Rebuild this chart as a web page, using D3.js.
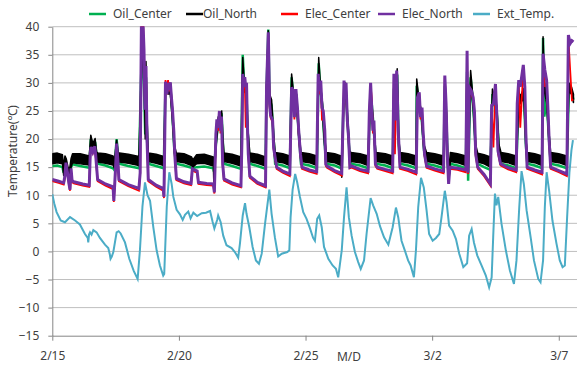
<!DOCTYPE html>
<html>
<head>
<meta charset="utf-8">
<script src="https://cdn.jsdelivr.net/npm/d3@7"></script>
<style>
  body { margin: 0; background: #fff; }
  text { font-family: "Noto Sans", "Noto Sans CJK KR", sans-serif; fill: #404040; }
</style>
</head>
<body>
<div id="chart"></div>
<script>
// tick labels
const dateTicks = ["2/15", "2/20", "2/25", "3/2", "3/7"];
const tempTicks = [-15, -10, -5, 0, 5, 10, 15, 20, 25, 30, 35, 40];

// days since 2/15 00:00 -- oil heated rooms
const oilT = [0.00,0.20,0.40,0.45,0.50,0.55,0.62,0.68,0.74,0.80,1.10,1.46,1.52,1.60,1.69,1.75,1.80,2.10,2.40,2.45,2.54,2.60,2.65,3.00,3.42,3.50,3.56,3.64,3.67,3.70,3.74,3.79,
  4.10,4.40,4.47,4.57,4.66,4.74,4.82,4.90,5.20,5.50,5.55,5.70,6.00,6.36,6.38,6.46,6.55,6.69,6.74,6.78,7.10,7.45,7.52,7.58,7.66,7.72,7.80,
  8.10,8.42,8.46,8.53,8.58,8.66,8.74,8.80,9.10,9.38,9.45,9.55,9.63,9.72,9.82,10.15,10.45,10.52,10.58,10.66,10.74,10.82,
  11.15,11.40,11.43,11.50,11.58,11.66,11.74,11.80,12.15,12.47,12.55,12.62,12.70,12.78,13.15,13.44,13.49,13.55,13.62,13.68,13.74,
  14.05,14.37,14.39,14.48,14.58,14.68,14.78,15.10,15.45,15.50,15.56,15.62,15.66,15.72,16.00,16.33,16.38,16.42,16.52,16.62,16.72,16.80,
  17.05,17.30,17.38,17.48,17.55,17.64,17.72,18.00,18.32,18.42,18.52,18.62,18.70,18.76,19.05,19.34,19.38,19.43,19.52,19.60,19.68,
  20.00,20.32,20.40,20.50,20.58];
const oilNorthHi = [17.4,17.5,17.2,15.0,17.0,16.5,15.0,14.5,16.5,17.4,17.4,17.0,20.7,19.2,20.1,17.7,17.5,17.4,17.0,16.0,19.8,17.5,17.5,17.3,16.9,30.0,39.0,30.0,21.0,33.8,24.0,17.5,
  17.3,16.9,30.0,29.5,29.5,25.0,19.0,17.5,17.4,16.8,16.3,17.2,17.3,16.8,14.0,20.0,23.9,25.0,20.0,17.5,17.3,16.8,34.5,30.0,29.5,22.0,17.5,
  17.3,16.8,29.2,39.3,28.0,27.0,21.0,17.6,17.4,17.0,31.6,27.0,28.5,22.5,17.6,17.4,17.0,34.5,30.0,27.0,21.0,17.6,
  17.4,17.0,14.5,27.0,30.0,24.0,18.0,17.6,17.4,17.0,27.0,26.2,22.0,17.6,17.4,17.0,30.0,26.0,32.5,20.0,17.6,
  17.4,17.0,30.7,27.0,25.0,19.0,17.6,17.4,17.0,30.0,25.0,16.0,14.5,17.6,17.4,17.0,33.0,16.0,32.2,27.0,19.0,17.5,
  17.2,16.8,28.9,27.0,26.0,19.0,17.6,17.4,17.0,27.5,28.0,29.0,20.0,17.6,17.4,17.0,38.2,30.0,28.0,22.0,17.6,
  17.4,17.0,30.0,29.3,28.0];
const oilNorthLo = [15.6,15.8,15.6,13.5,15.5,15.0,13.5,12.5,15.0,15.8,15.6,15.4,19.5,18.0,19.0,16.5,15.9,15.7,15.4,14.8,18.8,16.5,15.9,15.7,15.3,28.0,37.0,28.0,20.0,32.5,22.0,16.0,
  15.7,15.3,28.5,28.0,28.0,23.5,17.5,16.0,15.8,15.3,15.0,15.6,15.7,15.2,12.0,18.5,22.5,23.5,18.5,16.0,15.7,15.2,33.0,28.5,28.0,20.5,16.0,
  15.7,15.2,27.5,37.5,26.5,25.5,19.5,16.0,15.8,15.3,30.0,25.5,27.0,21.0,16.0,15.8,15.3,33.0,28.5,25.5,19.5,16.0,
  15.8,15.3,13.2,25.5,28.5,22.5,16.5,16.0,15.8,15.3,25.5,25.0,20.5,16.0,15.8,15.3,28.5,24.5,31.0,18.5,16.0,
  15.8,15.3,29.0,25.5,23.5,17.5,16.0,15.8,15.3,28.5,23.5,14.5,13.0,16.0,15.8,15.3,31.5,14.5,30.5,25.5,17.5,15.9,
  15.6,15.0,27.5,25.5,24.5,17.5,16.0,15.8,15.3,26.0,26.5,27.5,18.5,16.0,15.8,15.3,36.5,28.5,26.5,20.5,16.0,
  15.8,15.3,28.5,28.0,26.5];
const oilCenter = [15.2,15.3,15.0,14.0,15.2,14.8,14.5,13.0,15.0,15.5,15.2,14.9,20.0,18.5,19.5,17.0,15.6,15.3,14.8,14.5,20.0,17.0,15.6,15.2,14.8,30.0,38.0,26.0,20.8,31.0,20.0,15.6,
  15.2,14.8,29.5,29.0,29.5,24.5,18.0,15.6,15.3,14.9,14.8,15.0,15.1,14.8,14.2,19.0,23.0,24.0,19.0,15.6,15.2,14.7,35.0,29.5,29.0,21.0,15.6,
  15.2,14.7,28.5,39.5,27.0,26.0,20.0,15.6,15.3,14.8,31.0,26.0,28.0,22.0,15.6,15.3,14.8,33.5,29.0,26.0,20.0,15.6,
  15.3,14.8,14.5,26.5,29.5,23.0,17.0,15.6,15.3,14.8,26.5,26.0,21.5,15.6,15.3,14.8,29.0,25.0,31.5,19.0,15.6,
  15.3,14.8,29.5,26.5,24.0,18.0,15.6,15.3,14.8,29.5,24.0,15.0,13.5,15.6,15.3,14.8,32.0,12.6,31.0,26.0,18.0,15.6,
  15.0,14.5,28.0,26.5,25.0,18.0,15.6,15.3,14.8,27.0,27.5,28.0,19.0,15.6,15.3,14.8,38.0,24.0,27.0,21.0,15.6,
  15.3,14.8,29.0,28.5,27.0];

// electric heated rooms
const elecT = [0.00,0.25,0.45,0.50,0.54,0.60,0.66,0.70,0.74,0.78,0.85,1.20,1.46,1.50,1.53,1.60,1.68,1.72,1.75,1.79,2.10,2.40,2.43,2.50,2.54,2.59,2.63,3.00,3.42,3.47,3.52,3.58,3.62,3.66,3.70,3.74,3.79,
  4.10,4.38,4.41,4.47,4.53,4.57,4.62,4.66,4.71,4.74,4.80,4.84,4.90,5.20,5.48,5.53,5.62,5.72,5.77,6.10,6.36,6.40,6.46,6.50,6.55,6.60,6.64,6.68,6.73,6.78,
  7.10,7.45,7.49,7.52,7.56,7.60,7.64,7.67,7.70,7.74,7.80,8.10,8.42,8.46,8.53,8.58,8.62,8.70,8.74,8.79,8.86,
  9.10,9.38,9.45,9.52,9.56,9.62,9.68,9.73,9.80,9.86,10.15,10.44,10.50,10.55,10.60,10.65,10.70,10.76,10.80,10.85,
  11.15,11.43,11.52,11.56,11.60,11.65,11.70,11.75,11.82,12.15,12.47,12.52,12.57,12.62,12.66,12.70,12.76,12.83,
  13.15,13.44,13.49,13.53,13.60,13.66,13.73,14.05,14.37,14.42,14.49,14.54,14.60,14.64,14.70,14.78,
  15.10,15.45,15.50,15.55,15.60,15.65,15.70,16.00,16.33,16.38,16.42,16.47,16.55,16.62,16.67,16.72,16.80,
  17.05,17.30,17.35,17.42,17.50,17.55,17.60,17.70,18.00,18.32,18.36,18.42,18.48,18.60,18.66,18.70,18.75,
  19.05,19.34,19.38,19.45,19.52,19.58,19.62,19.68,20.00,20.32,20.38,20.45,20.52,20.58];
const elecNorth = [12.8,12.5,12.2,13.5,15.8,14.0,12.0,11.0,14.8,12.6,12.4,12.0,11.8,17.5,18.6,17.7,18.7,16.8,15.0,12.8,12.0,11.5,9.0,15.0,19.2,16.2,12.8,11.9,11.2,14.0,41.0,41.0,36.0,25.2,33.0,20.0,12.8,
  11.8,11.2,9.7,30.2,28.0,30.0,28.8,30.1,27.1,25.6,21.3,17.0,13.0,12.4,12.1,14.7,14.5,14.3,12.3,12.1,12.0,10.5,20.9,23.5,22.0,25.0,21.5,24.0,15.5,12.9,
  12.2,11.7,20.0,31.6,29.5,31.0,29.2,30.0,23.3,17.3,13.4,12.3,11.7,29.0,39.0,26.2,24.2,23.3,18.5,17.0,15.0,
  14.3,13.8,29.2,28.6,23.9,28.9,25.6,21.5,17.3,15.0,14.5,14.2,31.6,28.6,30.4,25.6,25.0,21.5,15.5,15.2,
  14.4,13.9,30.4,28.0,30.0,23.3,20.3,15.0,15.2,14.6,14.3,25.0,30.0,25.0,21.5,23.3,15.5,15.0,
  14.6,14.3,31.6,23.3,32.2,21.5,15.0,14.6,14.1,27.4,28.3,23.9,25.6,21.5,17.3,15.2,
  14.7,14.3,31.3,26.2,17.3,12.0,15.0,14.8,14.5,35.7,14.0,29.2,28.6,27.4,25.0,17.3,15.0,
  13.7,12.0,26.0,26.2,29.8,24.5,17.9,15.6,14.9,14.5,26.3,30.5,29.3,33.2,29.3,21.0,15.0,
  14.5,14.1,35.2,32.3,30.5,24.5,19.8,15.0,14.4,13.8,38.5,37.0,37.5,37.3];
const elecCenter = [12.5,12.2,11.9,13.2,15.5,13.8,11.8,10.8,14.5,12.3,12.1,11.7,11.5,17.3,18.4,17.5,18.5,16.6,14.8,12.5,11.7,11.1,8.8,14.8,19.0,16.0,12.5,11.6,10.8,13.8,40.5,41.0,36.0,25.5,32.5,19.5,12.5,
  11.5,10.8,9.5,30.5,28.0,30.5,28.5,30.0,27.0,25.5,21.0,16.8,12.7,12.1,11.8,14.5,14.2,14.0,12.0,11.8,11.7,10.3,20.5,23.0,21.5,24.5,21.0,23.5,15.2,12.6,
  11.9,11.4,19.8,31.0,29.0,30.5,22.0,29.5,23.0,17.0,13.1,12.0,11.4,28.5,38.5,25.8,23.8,23.0,18.2,16.7,14.7,
  14.0,13.4,29.0,28.2,23.5,28.5,25.0,21.0,17.0,14.7,14.2,13.8,31.0,28.0,30.0,23.3,24.5,21.0,15.2,14.9,
  14.1,13.5,30.0,27.5,29.2,23.0,20.0,14.8,14.9,14.3,13.9,24.5,29.5,27.0,21.0,23.0,15.2,14.7,
  14.3,13.9,31.0,17.3,31.5,21.0,14.7,14.3,13.7,27.1,28.0,23.5,25.0,21.0,17.0,14.9,
  14.4,13.9,31.0,25.8,17.0,13.0,14.7,14.5,14.1,35.0,13.8,28.8,28.2,27.0,24.5,17.0,14.7,
  13.4,11.7,25.5,18.5,29.5,24.0,17.5,15.3,14.6,14.1,26.0,30.0,22.0,32.5,29.0,20.5,14.7,
  14.2,13.7,34.8,29.3,30.0,24.0,19.5,14.7,14.1,13.4,38.0,32.3,26.9,27.0];

// outdoor temperature
const extT = [0.00,0.08,0.17,0.33,0.50,0.70,0.90,1.09,1.29,1.40,1.42,1.45,1.49,1.55,1.62,1.75,1.88,2.08,2.21,2.27,2.30,2.35,2.41,2.54,2.62,2.70,2.87,3.04,3.22,3.37,3.46,3.56,3.66,3.76,3.86,3.99,
  4.12,4.25,4.38,4.42,4.52,4.62,4.71,4.78,4.91,5.04,5.15,5.24,5.37,5.46,5.57,5.72,5.90,6.07,6.23,6.33,6.40,6.51,6.55,6.65,6.75,6.88,7.08,7.21,7.34,7.41,7.52,7.61,7.67,7.78,7.91,
  8.04,8.16,8.27,8.40,8.57,8.66,8.79,8.92,9.06,9.28,9.36,9.41,9.49,9.59,9.67,9.78,9.91,10.04,10.17,10.30,10.37,10.46,10.54,10.64,10.73,10.90,
  11.07,11.20,11.29,11.43,11.52,11.62,11.71,11.82,11.95,12.08,12.18,12.31,12.41,12.57,12.67,12.81,12.94,13.10,13.27,13.44,13.57,13.66,13.79,13.92,
  14.05,14.15,14.28,14.36,14.45,14.56,14.67,14.78,14.88,15.02,15.15,15.28,15.37,15.50,15.57,15.67,15.81,15.94,16.07,16.23,16.38,16.46,16.56,16.65,16.78,16.95,
  17.12,17.25,17.35,17.41,17.48,17.54,17.61,17.74,17.91,18.07,18.23,18.33,18.44,18.53,18.62,18.73,18.89,19.02,19.19,19.28,19.38,19.45,19.52,19.62,19.75,19.91,
  20.04,20.15,20.24,20.33,20.42,20.50,20.56];
const extV = [10.2,8.5,7.0,5.5,5.2,6.1,5.5,4.8,3.1,2.4,1.6,3.0,3.4,3.0,3.8,3.4,2.4,1.2,0.6,-0.5,-1.3,-0.9,-0.1,3.4,3.6,3.2,1.6,-1.3,-3.5,-4.9,0.2,8.0,12.3,10.0,9.0,4.3,
  0.2,-2.5,-4.3,-4.0,8.0,14.1,12.1,9.7,7.4,6.6,5.6,6.5,7.1,5.9,6.9,6.3,6.8,6.9,7.2,5.3,4.1,5.6,6.4,5.2,2.8,1.1,0.6,-0.1,-1.1,1.4,6.4,8.6,6.7,4.3,0.8,
  -1.6,-2.2,-0.4,4.9,11.0,6.7,2.5,-0.9,-0.4,-0.1,0.2,6.1,11.0,13.8,12.3,9.7,7.0,5.8,4.2,2.4,1.9,5.8,6.4,4.3,0.8,-1.3,
  -2.5,-3.1,-4.6,0.2,6.1,11.4,6.1,2.8,-0.1,-1.9,-3.1,-1.6,3.1,9.5,8.2,6.7,4.5,2.5,1.2,4.3,7.8,6.1,1.9,0.2,
  -1.6,-2.5,-4.6,0.2,7.9,13.1,11.4,7.3,3.1,1.9,2.4,3.1,6.1,10.8,8.8,4.6,3.7,2.2,-0.4,-2.8,-2.1,2.8,4.0,1.6,-0.7,-2.5,
  -4.3,-6.4,-4.6,2.5,10.3,8.2,9.7,4.9,0.2,-3.4,-5.8,-1.6,7.9,14.3,12.0,7.3,2.5,-1.6,-4.9,-5.5,-1.6,7.9,14.1,10.8,5.5,1.4,
  -1.6,-2.8,-2.5,6.1,14.0,18.0,19.8];

const checks = [[oilT, oilNorthHi, oilNorthLo, oilCenter], [elecT, elecNorth, elecCenter], [extT, extV]];
checks.forEach((g, k) => g.forEach((a, j) => {
  if (a.length !== g[0].length) throw new Error(`group ${k} array ${j}: ${a.length} vs ${g[0].length}`);
}));

const width = 577, height = 365;
const plotLeft = 52.3, plotRight = 577, plotTop = 26.7, plotBottom = 335.7;

const parseMD = d3.timeParse("%m/%d");
const tickDates = dateTicks.map(parseMD);
const start = tickDates[0];
const toDate = t => new Date(start.getTime() + t * 864e5);

const x = d3.scaleTime()
  .domain([start, toDate(20.72)])
  .range([plotLeft, plotRight]);
const y = d3.scaleLinear()
  .domain([-15, 40])
  .range([plotBottom, plotTop]);

const svg = d3.select("#chart")
  .append("svg")
  .attr("width", width)
  .attr("height", height);

svg.append("defs").append("clipPath").attr("id", "plot")
  .append("rect")
  .attr("x", plotLeft).attr("y", plotTop - 0.5)
  .attr("width", plotRight - plotLeft).attr("height", plotBottom - plotTop);

// horizontal grid
svg.append("g")
  .selectAll("line")
  .data(tempTicks.slice(1))
  .enter()
  .append("line")
  .attr("x1", plotLeft).attr("x2", plotRight)
  .attr("y1", d => y(d)).attr("y2", d => y(d))
  .style("stroke", "#bfbfbf")
  .style("stroke-width", 1);

// axes
const yAxis = svg.append("g")
  .attr("transform", `translate(${plotLeft},0)`)
  .call(d3.axisLeft(y).tickValues(tempTicks).tickSize(4).tickSizeOuter(0).tickPadding(9));
const xAxis = svg.append("g")
  .attr("transform", `translate(0,${plotBottom})`)
  .call(d3.axisBottom(x).tickValues(tickDates).tickFormat(d3.timeFormat("%-m/%-d")).tickSize(5).tickSizeOuter(0).tickPadding(11));
[yAxis, xAxis].forEach(a => {
  a.select(".domain").style("stroke", "#868686");
  a.selectAll(".tick line").style("stroke", "#868686");
  a.selectAll("text").style("font-size", "12px").style("fill", "#404040")
    .style("font-family", '"Noto Sans", sans-serif');
});

// axis titles
svg.append("text")
  .attr("transform", "translate(17,151) rotate(-90)")
  .attr("text-anchor", "middle")
  .style("font-size", "12px")
  .text("Temperature(℃)");
svg.append("text")
  .attr("x", 349).attr("y", 361)
  .attr("text-anchor", "middle")
  .style("font-size", "12px")
  .text("M/D");

// series
const plot = svg.append("g").attr("clip-path", "url(#plot)");

const line = (ts, vs) => d3.line()
  .x((d, i) => x(toDate(ts[i])))
  .y(d => y(d))(vs);

plot.append("path")
  .attr("d", line(oilT, oilCenter))
  .style("fill", "none").style("stroke", "#00b050").style("stroke-width", 2.5);

const band = d3.area()
  .x((d, i) => x(toDate(oilT[i])))
  .y0((d, i) => y(oilNorthLo[i]))
  .y1(d => y(d));
plot.append("path")
  .attr("d", band(oilNorthHi))
  .style("fill", "#000").style("stroke", "#000").style("stroke-width", 1.5)
  .style("stroke-linejoin", "round");

plot.append("path")
  .attr("d", line(elecT, elecCenter))
  .style("fill", "none").style("stroke", "#ff0000").style("stroke-width", 1.8);

plot.append("path")
  .attr("d", line(elecT, elecNorth))
  .style("fill", "none").style("stroke", "#7030a0").style("stroke-width", 3);

plot.append("path")
  .attr("d", line(extT, extV))
  .style("fill", "none").style("stroke", "#4bacc6").style("stroke-width", 2);

// legend
const legend = [
  { name: "Oil_Center", color: "#00b050", x: 89 },
  { name: "Oil_North", color: "#000000", x: 186 },
  { name: "Elec_Center", color: "#ff0000", x: 281 },
  { name: "Elec_North", color: "#7030a0", x: 378 },
  { name: "Ext_Temp.", color: "#4bacc6", x: 473 }
];
const lg = svg.append("g").selectAll("g").data(legend).enter().append("g")
  .attr("transform", d => `translate(${d.x},14)`);
lg.append("line")
  .attr("x1", 0).attr("x2", 17).attr("y1", 0).attr("y2", 0)
  .style("stroke", d => d.color).style("stroke-width", 2.5);
lg.append("text")
  .attr("x", (d, i) => i === 1 ? 17 : 24).attr("y", 4)
  .style("font-size", "12px")
  .text(d => d.name);
</script>
</body>
</html>
